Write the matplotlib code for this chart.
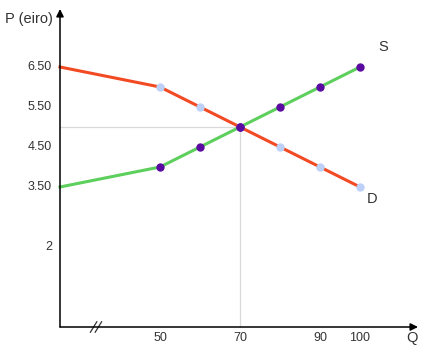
import matplotlib.pyplot as plt

plt.rcParams['font.family'] = ['Liberation Sans', 'DejaVu Sans']

# ---------------- DATA ----------------
q_demand = [25, 50, 60, 70, 80, 90, 100]
p_demand = [6.5, 6.0, 5.5, 5.0, 4.5, 4.0, 3.5]
q_supply = [25, 50, 60, 70, 80, 90, 100]
p_supply = [3.5, 4.0, 4.5, 5.0, 5.5, 6.0, 6.5]
q_eq, p_eq = 70, 5.0

y_ticks = [6.5, 5.5, 4.5, 3.5, 2.0]
y_tick_labels = ["6.50", "5.50", "4.50", "3.50", "2"]
x_ticks = [50, 70, 90, 100]
x_tick_labels = ["50", "70", "90", "100"]

RED = "#f24a22"
GREEN = "#5ccf5c"
PURPLE = "#5a0aa0"
LIGHTBLUE = "#bcd0f8"
TXT = "#333333"

# ---------------- FIGURE ----------------
fig = plt.figure(figsize=(4.48, 3.51), dpi=100)
ax = fig.add_axes([0, 0, 1, 1])
ax.set_xlim(10, 122)
ax.set_ylim(-0.6, 8.175)
ax.axis("off")

# guide lines at equilibrium
ax.plot([25, q_eq], [p_eq, p_eq], color="#d9d9d9", lw=0.9, zorder=1)
ax.plot([q_eq, q_eq], [0, p_eq], color="#d9d9d9", lw=0.9, zorder=1)

# axes with arrows
ax.annotate("", xy=(25, 7.95), xytext=(25, 0),
            arrowprops=dict(arrowstyle="-|>", color="black", lw=1.1,
                            mutation_scale=11, shrinkA=0, shrinkB=0))
ax.annotate("", xy=(114.5, 0), xytext=(25, 0),
            arrowprops=dict(arrowstyle="-|>", color="black", lw=1.1,
                            mutation_scale=11, shrinkA=0, shrinkB=0))

# axis break mark
for dq in (-0.6, 0.6):
    ax.plot([33.2 + dq, 34.8 + dq], [-0.13, 0.13], color="#333333", lw=0.9)

# curves
ax.plot(q_demand, p_demand, color=RED, lw=2.2, zorder=2)
ax.plot(q_supply, p_supply, color=GREEN, lw=2.2, zorder=2)
ax.plot(q_demand[1:], p_demand[1:], ls="none", marker="o", ms=5,
        color=LIGHTBLUE, zorder=3)
ax.plot(q_supply[1:], p_supply[1:], ls="none", marker="o", ms=5,
        color=PURPLE, zorder=4)
ax.plot([q_eq], [p_eq], ls="none", marker="o", ms=5, color=PURPLE, zorder=5)

# tick labels
for p, lab in zip(y_ticks, y_tick_labels):
    ax.text(23, p, lab, ha="right", va="center", fontsize=9, color=TXT)
for q, lab in zip(x_ticks, x_tick_labels):
    ax.text(q, -0.28, lab, ha="center", va="center", fontsize=9, color=TXT)

# labels
ax.text(11.2, 7.7, "P (eiro)", ha="left", va="center", fontsize=10.5, color=TXT)
ax.text(113, -0.28, "Q", ha="center", va="center", fontsize=10.5, color=TXT)
ax.text(105.8, 7.0, "S", ha="center", va="center", fontsize=10.5, color=TXT)
ax.text(103, 3.2, "D", ha="center", va="center", fontsize=10.5, color=TXT)

fig.savefig("out.png", dpi=100)
